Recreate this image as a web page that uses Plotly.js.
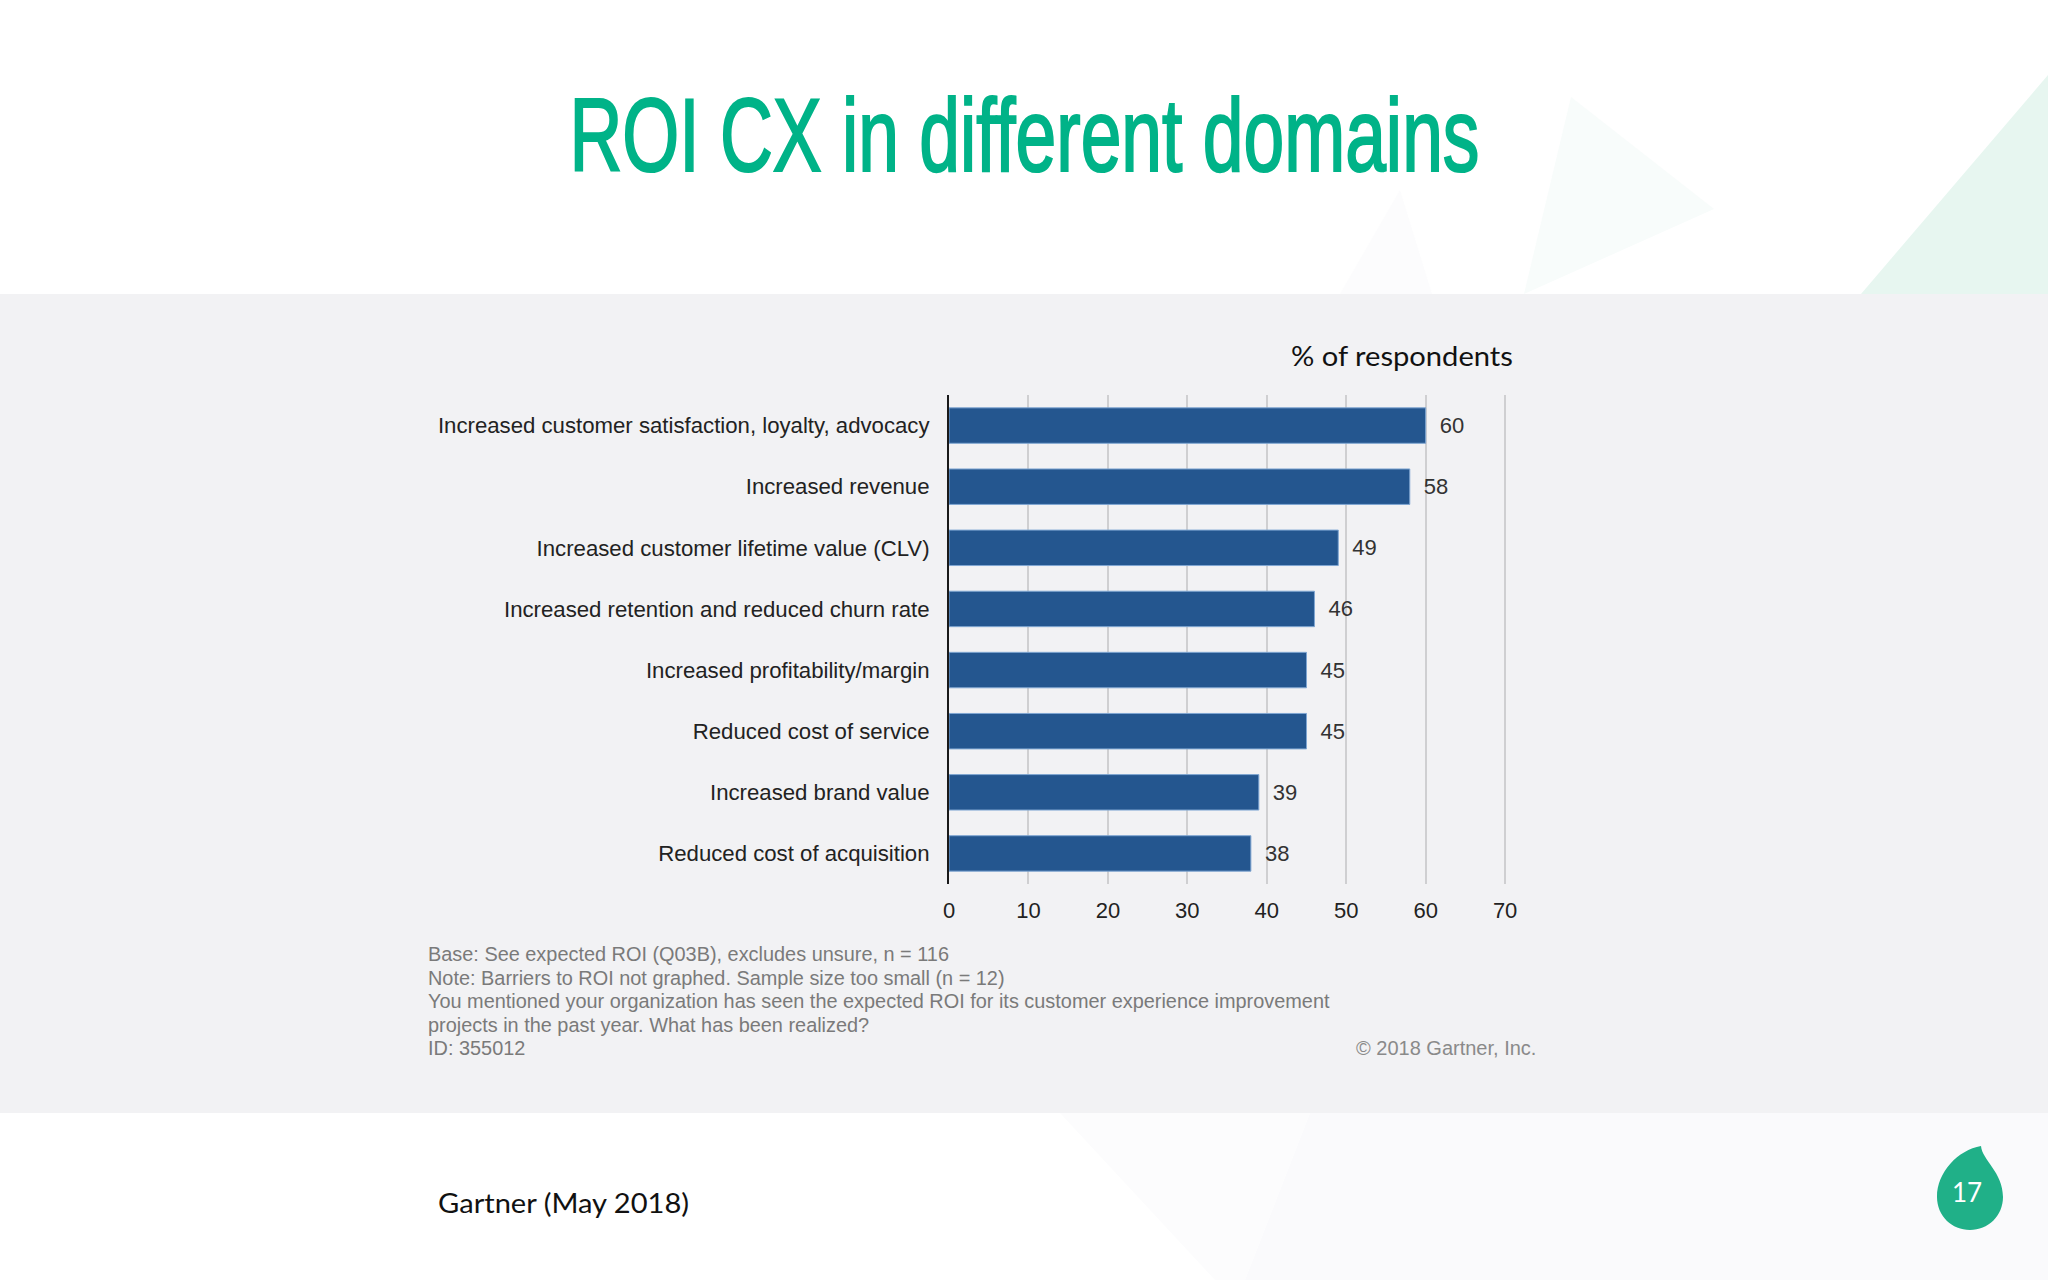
<!DOCTYPE html>
<html>
<head>
<meta charset="utf-8">
<script src="https://cdn.plot.ly/plotly-3.0.1.min.js"></script>
<style>html,body{margin:0;padding:0;background:#fff}#chart{width:2048px;height:1280px}</style>
</head>
<body>
<div id="chart"></div>
<script>
const categories = [
  "Increased customer satisfaction, loyalty, advocacy",
  "Increased revenue",
  "Increased customer lifetime value (CLV)",
  "Increased retention and reduced churn rate",
  "Increased profitability/margin",
  "Reduced cost of service",
  "Increased brand value",
  "Reduced cost of acquisition"
];
const respondents = [60, 58, 49, 46, 45, 45, 39, 38];
const xTicks = [0, 10, 20, 30, 40, 50, 60, 70];
const titleText = "ROI CX in different domains";
const unitText = "% of respondents";
const sourceText = "Gartner (May 2018)";
const pageNumber = "17";
const copyrightText = "© 2018 Gartner, Inc.";
const noteLines = [
  "Base: See expected ROI (Q03B), excludes unsure, n = 116",
  "Note: Barriers to ROI not graphed. Sample size too small (n = 12)",
  "You mentioned your organization has seen the expected ROI for its customer experience improvement",
  "projects in the past year. What has been realized?",
  "ID: 355012"
];

const W = 2048, H = 1280;
const px = x => x / W, py = y => 1 - y / H;
const poly = pts => "M " + pts.map(p => px(p[0]) + " " + py(p[1])).join(" L ") + " Z";
const bgShape = (pts, color) => ({type:"path", xref:"paper", yref:"paper", layer:"below",
  path: poly(pts), fillcolor: color, line:{width:0}});
const txt = (x, y, text, size, color, family, anchor, weight) => ({xref:"paper", yref:"paper",
  x: px(x), y: py(y), text, showarrow:false, xanchor:anchor||"left", yanchor:"middle",
  font:{size, color, family, weight:weight||400}});

const drop = [
  "M", px(1981), py(1146),
  "C", px(1982), py(1160), px(2003), py(1172), px(2003), py(1197),
  "C", px(2003), py(1216), px(1988), py(1230), px(1970), py(1230),
  "C", px(1952), py(1230), px(1937), py(1216), px(1937), py(1197),
  "C", px(1937), py(1172), px(1958), py(1150), px(1981), py(1146), "Z"
].join(" ");

const SANS = "'Liberation Sans', Arial, sans-serif";
const SLIDE = "Lato, 'Noto Sans', sans-serif";
const TITLE_GREEN = "#00b388";

const trace = {
  type:"bar", orientation:"h",
  x: respondents, y: categories,
  marker:{color:"#24568f", line:{color:"#7fa6d2", width:1}},
  width:0.58,
  text: respondents.map(v => "\u2002" + v),
  textposition:"outside", cliponaxis:false,
  textfont:{family:SANS, size:22, color:"#333333"},
  hoverinfo:"skip"
};

const layout = {
  width:W, height:H, margin:{l:0,r:0,t:0,b:0,pad:0},
  paper_bgcolor:"#ffffff", plot_bgcolor:"rgba(0,0,0,0)",
  showlegend:false,
  xaxis:{domain:[px(949), px(1507.5)], range:[0,70.3], tickvals:xTicks,
    showgrid:true, gridcolor:"#cfcfd1", gridwidth:2, zeroline:false, showline:false,
    ticks:"", ticklabelstandoff:11, tickfont:{family:SANS,size:22,color:"#222222"}},
  yaxis:{domain:[py(884), py(395)], type:"category", autorange:false, range:[7.5,-0.5],
    categoryorder:"array", categoryarray:categories,
    showgrid:false, zeroline:false, showline:true, linecolor:"#1a1a1a", linewidth:2,
    ticks:"", ticklabelstandoff:13, tickfont:{family:SANS,size:22.2,color:"#222222"}},
  shapes:[
    bgShape([[1861,294],[2048,75],[2048,294]], "#e7f6f0"),
    bgShape([[1571,97],[1714,209],[1524,294]], "#f8fcfb"),
    bgShape([[1400,190],[1432,294],[1340,294]], "#fcfcfd"),
    bgShape([[1310,1113],[2048,1113],[2048,1280],[1245,1280]], "#fafafc"),
    bgShape([[1060,1113],[1310,1113],[1245,1280],[1215,1280]], "#fcfcfd"),
    {type:"rect", xref:"paper", yref:"paper", layer:"below", x0:0, x1:1, y0:py(1113), y1:py(294),
      fillcolor:"#f2f2f4", line:{width:0}},
    {type:"path", xref:"paper", yref:"paper", layer:"above", path:drop, fillcolor:"#20b088", line:{width:0}}
  ],
  annotations:[
    txt(1024, 135, titleText, 104, TITLE_GREEN, SANS, "center"),
    txt(1506.5, 356, unitText, 27, "#111111", SLIDE, "right"),
    txt(445, 1202, sourceText, 27, "#111111", SLIDE),
    txt(1967, 1192, pageNumber, 26, "#ffffff", SLIDE, "center"),
    txt(1538, 1048, copyrightText, 20, "#8a8a8a", SANS, "right")
  ].concat(noteLines.map((t,i) => txt(426, 954 + i*23.5, t, 19.9, "#7a7a7a", SANS)))
};

const fitWidths = {[titleText]:910, [unitText]:222, [sourceText]:251};

Plotly.newPlot("chart", [trace], layout, {displayModeBar:false, staticPlot:true}).then(gd => {
  gd.querySelectorAll(".annotation-text").forEach(el => {
    const w = fitWidths[el.textContent];
    if (w) { el.setAttribute("textLength", w); el.setAttribute("lengthAdjust", "spacingAndGlyphs"); }
    if (el.textContent === titleText) { el.style.stroke = TITLE_GREEN; el.style.strokeWidth = "2.2px"; }
  });
});
</script>
</body>
</html>
